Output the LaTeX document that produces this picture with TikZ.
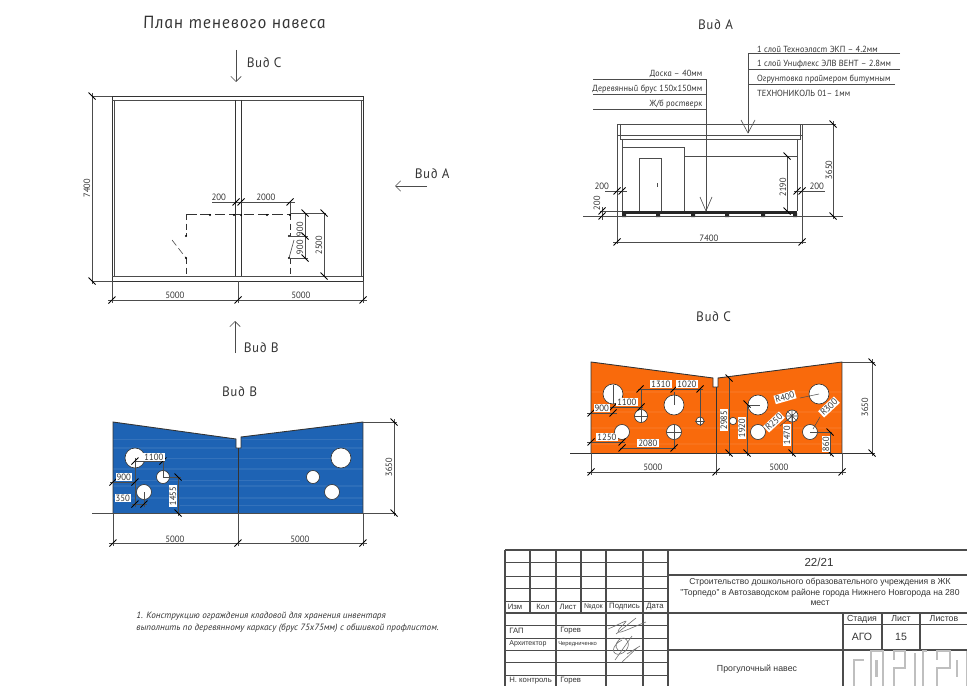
\documentclass[tikz,border=0pt]{standalone}
\usepackage{fontspec}
\setmainfont{Liberation Sans}
\newfontfamily\gostfont[FakeSlant=-0.18]{PT Sans Italic}
\newfontfamily\gosttitle[FakeSlant=-0.18, LetterSpace=5]{PT Sans Italic}
\newfontfamily\noteitfont{PT Sans Italic}
\usetikzlibrary{arrows.meta}

\definecolor{panelorange}{HTML}{F96A0C}
\definecolor{panelblue}{HTML}{1E63B4}
\definecolor{inkgray}{HTML}{333333}

% slanted dimension ticks
\newcommand{\tickh}[1]{(#1) +(-3.5,3.5) -- +(3.5,-3.5)}
\newcommand{\tickv}[1]{(#1) +(-3.5,-3.5) -- +(3.5,3.5)}

\tikzset{
  heavy/.style={line width=0.5pt, black!80},
  thinline/.style={line width=0.35pt, black!70},
  dimline/.style={line width=0.3pt, black!70},
  dimmark/.style={line width=0.5pt, black},
  dimtext/.style={font=\gostfont\fontsize{5.2}{6}\selectfont, text=inkgray, inner sep=0.4pt},
  boxtext/.style={dimtext, fill=white, inner sep=0.6pt},
  leadertext/.style={font=\gostfont\fontsize{5.05}{6}\selectfont, text=inkgray, inner sep=0pt},
  viewtitle/.style={font=\gosttitle\fontsize{7.8}{9}\selectfont, text=inkgray, inner sep=0pt},
  stamptext/.style={font=\fontsize{4.4}{5.2}\selectfont, text=inkgray, inner sep=0pt},
  hole/.style={fill=white, draw=black!80, line width=0.35pt},
  logostroke/.style={black!25, line width=1.5pt},
}

\begin{document}
\begin{tikzpicture}[x=0.02cm, y=-0.02cm]

\path[use as bounding box, clip] (0,0) rectangle (967,686);

% plan title
\node[viewtitle, font=\gosttitle\fontsize{10}{11}\selectfont] (plantitle) at (235,22) {План теневого навеса};

% view arrows
\draw[-{Straight Barb[length=3pt]}, thinline] (236,50) -- (236,82);
\node[viewtitle, anchor=west] (viewC) at (247,63) {Вид С};
\draw[-{Straight Barb[length=3pt]}, thinline] (427,186) -- (395,186);
\node[viewtitle, anchor=west] (viewA) at (415,174) {Вид А};
\draw[-{Straight Barb[length=3pt]}, thinline] (235,353) -- (235,321);
\node[viewtitle, anchor=west] (viewB) at (244,348) {Вид В};

% plan outline
\draw[heavy] (112,96) rectangle (363,281);
\draw[thinline] (114,100) -- (114,276) (361,100) -- (361,276);
\draw[thinline] (112,100) -- (363,100) (112,276) -- (363,276);
\draw[heavy] (235,100) -- (235,276) (241,100) -- (241,276);

% storage room, dashed
\draw[heavy, dash pattern=on 6pt off 2.2pt] (186,214) -- (290,214);
\draw[heavy, dash pattern=on 3.5pt off 2pt] (186,214) -- (186,236) (186,258) -- (186,276);
\draw[heavy, dash pattern=on 3.5pt off 2pt] (290,214) -- (290,236) (290,258) -- (290,276);
\draw[thinline, dash pattern=on 4pt off 2pt] (172,240) -- (186,258);
\draw[thinline] (289,258) -- (294,240);
\fill[black] (186,236) circle (1.2) (186,258) circle (1.2) (289,236) circle (1.2) (289,258) circle (1.2);
\fill[black] (210,215) circle (1.1) (234,215) circle (1.1) (241,215) circle (1.1) (267,215) circle (1.1) (290,215) circle (1.1);

% plan dimensions
\draw[dimline] (92,96) -- (112,96) (92,281) -- (112,281) (92,93) -- (92,284);
\draw[dimline] (112,281) -- (112,303) (238,281) -- (238,303) (363,281) -- (363,303) (108,300) -- (367,300);
\draw[dimmark] \tickv{92,96} \tickv{92,281} \tickh{112,300} \tickh{238,300} \tickh{363,300};
\node[dimtext, rotate=90] (plan7400) at (87,188) {7400};
\node[dimtext] (plan5000a) at (175,295) {5000};
\node[dimtext] (plan5000b) at (301,295) {5000};
\draw[dimline] (212,202) -- (295,202) (290,202) -- (290,214);
\draw[dimmark] \tickh{236,202} \tickh{241,202} \tickh{290,202};
\node[dimtext] (plan200) at (219,197) {200};
\node[dimtext] (plan2000) at (266,197) {2000};
\draw[dimline] (290,213) -- (326,213) (305,213) -- (305,258) (324,213) -- (324,276);
\draw[dimline] (289,236) -- (308,236) (289,258) -- (308,258);
\draw[dimmark] \tickv{305,213} \tickv{305,236} \tickv{305,258} \tickv{324,213} \tickv{324,276};
\node[dimtext, rotate=90] (plan900a) at (300,229) {900};
\node[dimtext, rotate=90] (plan900b) at (300,247) {900};
\node[dimtext, rotate=90] (plan2500) at (319,245) {2500};

% view A title
\node[viewtitle] (titleA) at (716,25) {Вид А};

% view A roof and walls
\draw[thinline] (617,124) rectangle (802,135);
\draw[thinline] (620,124) -- (620,139) -- (800,139) -- (800,124);
\draw[thinline] (617,135) -- (617,244) (802,135) -- (802,244);
\draw[thinline] (622,139) -- (622,211) (797,139) -- (797,211);
\draw[thinline] (622,147) -- (684,147) -- (684,211) (684,156) -- (797,156);
\draw[thinline] (639,211) -- (639,158) -- (661,158) -- (661,211);
\draw[thinline] (657,183) -- (657,187);

% view A slab and ground
\fill[black!85] (622,211) rectangle (797,213.5);
\fill[black!85] (622,213) rectangle (626,217) (656,213) rectangle (660,217) (691,213) rectangle (695,217);
\fill[black!85] (725,213) rectangle (729,217) (761,213) rectangle (765,217) (793,213) rectangle (797,217);
\draw[thinline] (583,216) -- (843,216);

% view A dimensions
\draw[dimline] (613,242) -- (806,242) (802,124) -- (836,124) (833,121) -- (833,219);
\draw[dimline] (787,156) -- (787,213) (605,191) -- (627,191) (794,191) -- (825,191);
\draw[dimline] (600,211) -- (622,211) (602,207) -- (602,220);
\draw[dimmark] \tickh{617,242} \tickh{802,242} \tickv{833,124} \tickv{833,216} \tickv{787,156} \tickv{787,211};
\draw[dimmark] \tickh{617,191} \tickh{622,191} \tickh{797,191} \tickh{802,191} \tickh{602,211} \tickh{602,216};
\node[dimtext] (a7400) at (709,238) {7400};
\node[dimtext, rotate=90] (a3650) at (829,170) {3650};
\node[dimtext, rotate=90] (a2190) at (783,187) {2190};
\node[dimtext] (a200l) at (602,186) {200};
\node[dimtext] (a200r) at (817,186) {200};
\node[dimtext, rotate=90] (a200v) at (597,203) {200};

% view A leaders
\draw[thinline] (593,79) -- (706,79) -- (706,211) (593,94) -- (706,94) (593,109) -- (706,109);
\draw[thinline] (700,197) -- (706,211) -- (712,197);
\node[leadertext, anchor=east] (lblDoska) at (703,74) {Доска – 40мм};
\node[leadertext, anchor=east] (lblBrus) at (703,89) {Деревянный брус 150х150мм};
\node[leadertext, anchor=east] (lblRost) at (703,104) {Ж/б ростверк};
\draw[thinline] (900,53) -- (748,53) -- (748,133) (900,69) -- (748,69) (895,84) -- (748,84);
\draw[thinline] (741,120) -- (748,133) -- (755,120);
\node[leadertext, anchor=west] (lblLayer1) at (757,49) {1 слой Техноэласт ЭКП – 4.2мм};
\node[leadertext, anchor=west] (lblLayer2) at (757,64) {1 слой Унифлекс ЭЛВ ВЕНТ – 2.8мм};
\node[leadertext, anchor=west] (lblLayer3) at (757,79) {Огрунтовка праймером битумным};
\node[leadertext, anchor=west] (lblLayer4) at (757,93) {ТЕХНОНИКОЛЬ 01– 1мм};

% view B title
\node[viewtitle] (titleB) at (240,392) {Вид В};

% view B panel
\begin{scope}
\clip (113,422) -- (236,439) -- (236,448) -- (241,448) -- (241,437) -- (363,422) -- (363,513) -- (113,513) -- cycle;
\fill[panelblue] (113,420) rectangle (363,513);
\draw[white, opacity=0.07, line width=1.4pt] (113,448) -- (363,448) (113,469) -- (363,469) (113,486) -- (363,486) (113,498) -- (363,498);
\draw[white, opacity=0.1, line width=0.5pt] (113,439) -- (363,439) (150,458) -- (340,458) (113,480) -- (300,480) (180,505) -- (363,505);
\end{scope}
\draw[heavy] (113,513) -- (113,422) -- (236,439) -- (236,448) -- (241,448) -- (241,437) -- (363,422) -- (363,513);
\draw[heavy] (238,448) -- (238,513);
\draw[thinline] (92,513) -- (396,513);

% view B holes
\path[hole] (135,458) circle (10) (163,477) circle (6.5) (144,492) circle (7.5);
\path[hole] (341,458) circle (10) (313,477) circle (6.5) (332,492) circle (7.5);

% view B dimensions
\draw[dimline] (113,513) -- (113,546) (238,513) -- (238,546) (363,513) -- (363,546) (109,543) -- (367,543);
\draw[dimline] (363,422) -- (397,422) (394,419) -- (394,516);
\draw[dimline] (135,458) -- (135,507) (135,461) -- (165,461) (163,461) -- (163,477);
\draw[dimline] (110,482) -- (136,482) (132,504) -- (147,504) (144,492) -- (144,507);
\draw[dimline] (163,477) -- (181,477) (178,477) -- (178,516);
\draw[dimmark] \tickh{113,543} \tickh{238,543} \tickh{363,543} \tickv{394,422} \tickv{394,513};
\draw[dimmark] \tickh{135,461} \tickh{163,461} \tickh{113,482} \tickh{135,482} \tickh{135,504} \tickh{144,504};
\draw[dimmark] \tickv{178,477} \tickv{178,513};
\node[dimtext] (b5000a) at (175,539) {5000};
\node[dimtext] (b5000b) at (300,539) {5000};
\node[dimtext, rotate=90] (b3650) at (389,467) {3650};
\node[boxtext] (b1100) at (154,457) {1100};
\node[boxtext] (b900) at (124,477) {900};
\node[boxtext] (b350) at (123,498) {350};
\node[boxtext, rotate=90] (b1455) at (173,496) {1455};

% view C title
\node[viewtitle] (titleC) at (714,317) {Вид С};

% view C panel
\begin{scope}
\clip (591,362) -- (713,378) -- (713,387) -- (718,387) -- (718,378) -- (842,362) -- (842,453) -- (591,453) -- cycle;
\fill[panelorange] (591,360) rectangle (842,453);
\draw[white, opacity=0.06, line width=0.8pt] (591,392) -- (842,392) (591,412) -- (842,412) (591,428) -- (842,428) (591,444) -- (842,444);
\end{scope}
\draw[heavy] (591,453) -- (591,362) -- (713,378) -- (713,387) -- (718,387) -- (718,378) -- (842,362) -- (842,453);
\draw[heavy] (716,387) -- (716,453);
\draw[heavy] (570,453) -- (875,453);

% view C holes
\path[hole] (613,394) circle (10) (641,416) circle (6.5) (622,432) circle (7.5) (674,405) circle (10);
\path[hole] (674,432) circle (7.5) (700,421) circle (4) (733,421) circle (3.7) (758,405) circle (10);
\path[hole] (758,432) circle (7.5) (792,416) circle (6) (819,394) circle (10) (810,432) circle (7.5);

% center marks
\draw[dimline] (634,416) -- (648,416) (641,409) -- (641,423) (666,432) -- (682,432) (674,424) -- (674,440);
\draw[dimline] (695,421) -- (705,421) (700,416) -- (700,426) (674,392) -- (674,405) (613,385) -- (613,404);
\draw[dimline] (786,416) -- (798,416) (792,410) -- (792,422) (787,411) -- (797,421) (787,421) -- (797,411);

% view C dimensions
\draw[dimline] (591,453) -- (591,475) (716,453) -- (716,475) (842,453) -- (842,475) (587,472) -- (846,472);
\draw[dimline] (842,362) -- (875,362) (872,359) -- (872,456);
\draw[dimline] (638,389) -- (703,389) (641,389) -- (641,416) (700,389) -- (700,421);
\draw[dimline] (610,407) -- (643,407) (587,413) -- (617,413) (587,442) -- (625,442) (620,448) -- (676,448) (674,432) -- (674,448);
\draw[dimline] (729,378) -- (729,456) (747,404) -- (747,456) (747,405) -- (760,405) (792,414) -- (792,456);
\draw[dimline] (810,432) -- (832,432) (830,432) -- (830,456);
\draw[dimline] (819,394) -- (800,398) (792,416) -- (780,426) (813,429) -- (820,417);
\draw[dimmark] \tickh{591,472} \tickh{716,472} \tickh{842,472} \tickv{872,362} \tickv{872,453};
\draw[dimmark] \tickh{640,389} \tickh{674,389} \tickh{700,389} \tickh{613,407} \tickh{641,407};
\draw[dimmark] \tickh{591,413} \tickh{613,413} \tickh{591,442} \tickh{622,442} \tickh{622,448} \tickh{674,448};
\draw[dimmark] \tickv{729,378} \tickv{729,453} \tickv{747,404} \tickv{747,453} \tickv{792,453} \tickv{830,432} \tickv{830,453};
\node[dimtext] (c5000a) at (653,467) {5000};
\node[dimtext] (c5000b) at (779,467) {5000};
\node[dimtext, rotate=90] (c3650) at (865,407) {3650};
\node[boxtext] (c1310) at (661,384) {1310};
\node[boxtext] (c1020) at (687,384) {1020};
\node[boxtext] (c1100) at (627,402) {1100};
\node[boxtext] (c900) at (602,408) {900};
\node[boxtext] (c1250) at (607,437) {1250};
\node[boxtext] (c2080) at (648,443) {2080};
\node[boxtext, rotate=90] (c2985) at (724,420) {2985};
\node[boxtext, rotate=90] (c1920) at (742,428) {1920};
\node[boxtext, rotate=90] (c1470) at (787,435) {1470};
\node[boxtext, rotate=90] (c860) at (826,444) {860};
\node[boxtext, rotate=16] (cR400) at (785,397) {R400};
\node[boxtext, rotate=43] (cR250) at (774,422) {R250};
\node[boxtext, rotate=43] (cR300) at (829,407) {R300};

% general note
\node[font=\noteitfont\fontsize{5.2}{6.9}\selectfont, text=inkgray, anchor=north west, align=left, inner sep=0pt] (note) at (136,612)
  {1. Конструкцию ограждения кладовой для хранения инвентаря\\выполнить по деревянному каркасу (брус 75х75мм) с обшивкой профлистом.};

% title block frame
\draw[black!70, line width=0.7pt] (505,550) -- (967,550) (505,550) -- (505,686);
\draw[black!70, line width=0.7pt] (530,550) -- (530,613) (556,550) -- (556,686) (581,550) -- (581,613);
\draw[black!70, line width=0.7pt] (606,550) -- (606,686) (643,550) -- (643,686) (668,550) -- (668,686);
\draw[thinline] (505,562) -- (668,562) (505,576) -- (668,576) (505,588) -- (668,588) (505,601) -- (668,601);
\draw[thinline] (505,625) -- (668,625) (505,638) -- (668,638) (505,650) -- (668,650) (505,662) -- (668,662) (505,675) -- (668,675);
\draw[black!70, line width=0.7pt] (505,613) -- (967,613) (668,575) -- (967,575) (668,650) -- (967,650);
\draw[black!70, line width=0.7pt] (843,613) -- (843,686) (882,613) -- (882,650) (920,613) -- (920,650);
\draw[thinline] (843,624) -- (967,624);

% title block texts
\node[stamptext] (sIzm) at (515,607) {Изм};
\node[stamptext] (sKol) at (543,607) {Кол};
\node[stamptext] (sList) at (568,607) {Лист};
\node[stamptext, font=\fontsize{4}{5}\selectfont] (sDok) at (593.5,607) {№док};
\node[stamptext] (sPod) at (624.5,607) {Подпись};
\node[stamptext] (sData) at (655,607) {Дата};
\node[stamptext, anchor=west] (sGap) at (509,631) {ГАП};
\node[stamptext, anchor=west] (sGorev) at (560,631) {Горев};
\node[stamptext, anchor=west, font=\fontsize{4}{5}\selectfont] (sArch) at (509,644) {Архитектор};
\node[stamptext, anchor=west, font=\fontsize{3.3}{4}\selectfont] (sCher) at (558,644) {Чередниченко};
\node[stamptext, anchor=west] (sNk) at (509,681) {Н. контроль};
\node[stamptext, anchor=west] (sGorevB) at (560,681) {Горев};
\node[stamptext, font=\fontsize{6.6}{8}\selectfont] (sNum) at (819,562) {22/21};
\node[stamptext, font=\fontsize{4.9}{6.1}\selectfont, align=center] (sProj) at (820,592)
  {Строительство дошкольного образовательного учреждения в ЖК\\"Торпедо" в Автозаводском районе города Нижнего Новгорода на 280\\мест};
\node[stamptext, font=\fontsize{5}{6}\selectfont] (sStad) at (862,619) {Стадия};
\node[stamptext, font=\fontsize{5}{6}\selectfont] (sLis) at (901,619) {Лист};
\node[stamptext, font=\fontsize{5}{6}\selectfont] (sLists) at (944,619) {Листов};
\node[stamptext, font=\fontsize{6}{7}\selectfont] (sAgo) at (862,637) {АГО};
\node[stamptext, font=\fontsize{6}{7}\selectfont] (s15) at (901,637) {15};
\node[stamptext, font=\fontsize{5}{6}\selectfont] (sName) at (757,669) {Прогулочный навес};

% signatures
\draw[black!55, line width=0.35pt] (608,629) .. controls (625,622) and (632,616) .. (620,628) .. controls (612,638) and (630,628) .. (646,622);
\draw[black!55, line width=0.35pt] (622,640) .. controls (610,646) and (612,656) .. (620,654) .. controls (628,652) and (632,642) .. (624,638) .. controls (616,638) and (614,648) .. (618,650);
\draw[black!55, line width=0.35pt] (615,660) -- (632,636) (622,662) -- (637,648) (627,654) -- (640,646) (616,634) -- (636,618);

% logo
\draw[logostroke] (854,686) -- (854,660) -- (864,660);
\draw[logostroke] (871,686) -- (871,651) -- (883,651) -- (883,686) (876.5,660) -- (876.5,677);
\draw[logostroke] (894,686) -- (894,668) -- (905,668) -- (905,651) -- (894,651) -- (894,660) (915,653) -- (915,686);
\draw[logostroke] (923,686) -- (923,651) -- (927,651) (937,686) -- (937,668) -- (950,668) -- (950,651) -- (937,651) -- (937,660);
\draw[logostroke] (957,660) -- (957,677) (967,651) -- (967,686);

\end{tikzpicture}
\end{document}
